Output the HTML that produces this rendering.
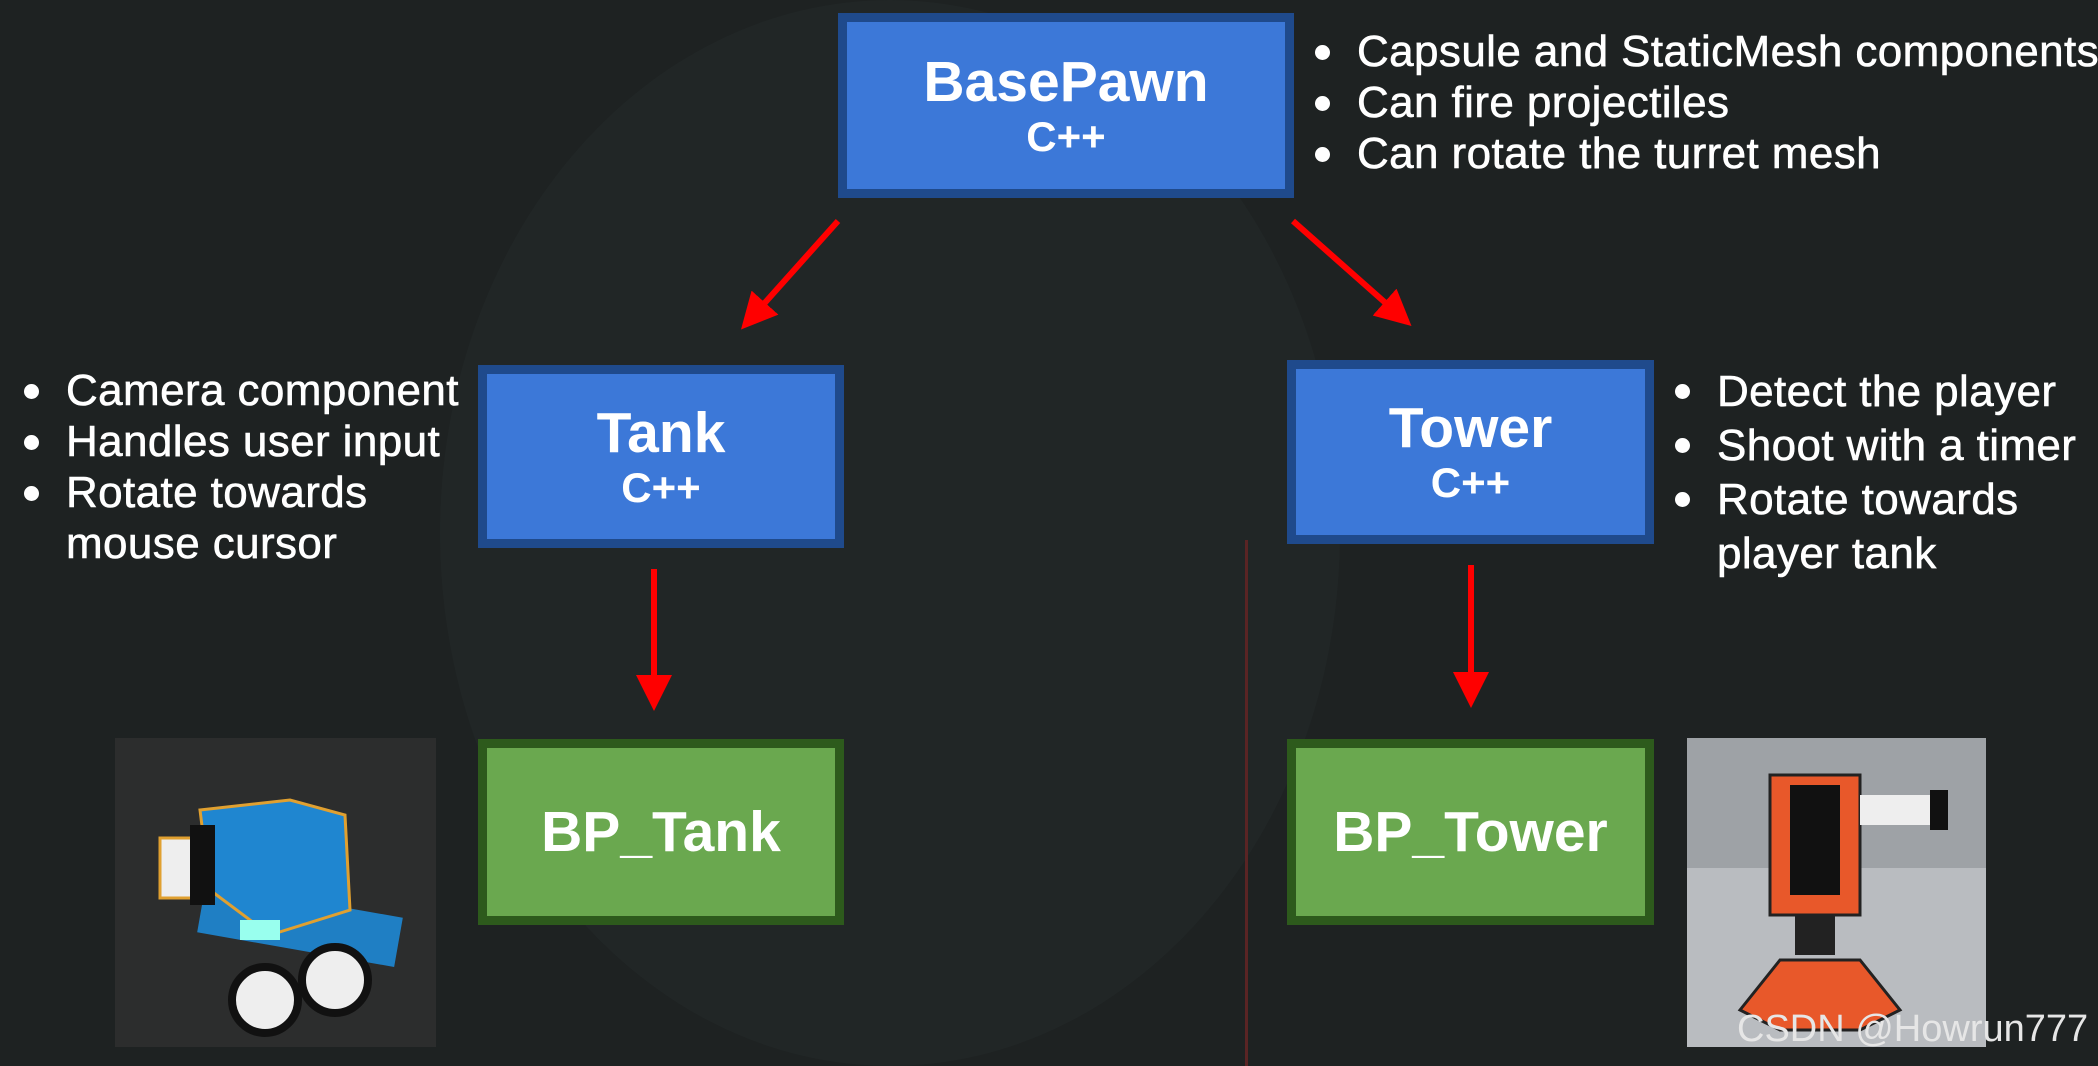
<!DOCTYPE html>
<html><head><meta charset="utf-8"><style>
body{margin:0;width:2098px;height:1066px;overflow:hidden;background:#1e2222;font-family:"Liberation Sans",sans-serif;position:relative}
.box{position:absolute;box-sizing:border-box;color:#fff;font-weight:bold;text-align:center;display:flex;flex-direction:column;justify-content:center;align-items:center}
.blue{background:#3c78d8;border:9px solid #1f4a8c}
.green{background:#6aa84f;border:9px solid #2d5a1c}
.t{font-size:57px;line-height:62px}
.c{font-size:42px;line-height:48px}
.ul{position:absolute;color:#fff;font-size:44px;line-height:51px;margin:0;padding:0;list-style:none;letter-spacing:0.4px;-webkit-text-stroke:0.6px #fff}
.ul li{position:relative;padding-left:42px;white-space:nowrap}
.ul li.b:before{content:"";position:absolute;left:0;top:19px;width:15px;height:15px;border-radius:50%;background:#fff}
</style></head><body>
<div style="position:absolute;left:440px;top:0;width:900px;height:1066px;border-radius:50%;background:#212626"></div>
<div style="position:absolute;left:1245px;top:540px;width:3px;height:526px;background:#5a2424"></div>

<div class="box blue" style="left:838px;top:13px;width:456px;height:185px"><div class="t">BasePawn</div><div class="c">C++</div></div>
<div class="box blue" style="left:478px;top:365px;width:366px;height:183px"><div class="t">Tank</div><div class="c">C++</div></div>
<div class="box blue" style="left:1287px;top:360px;width:367px;height:184px"><div class="t">Tower</div><div class="c">C++</div></div>
<div class="box green" style="left:478px;top:739px;width:366px;height:186px"><div class="t">BP_Tank</div></div>
<div class="box green" style="left:1287px;top:739px;width:367px;height:186px"><div class="t">BP_Tower</div></div>

<svg width="2098" height="1066" style="position:absolute;left:0;top:0">
<defs><marker id="a" markerWidth="6" markerHeight="6" refX="5" refY="3" orient="auto" markerUnits="strokeWidth"><path d="M0,0 L6,3 L0,6 z" fill="#f00"/></marker></defs>
<g stroke="#f00" stroke-width="6" fill="none">
<line x1="838" y1="221" x2="745" y2="325" marker-end="url(#a)"/>
<line x1="1293" y1="221" x2="1407" y2="322" marker-end="url(#a)"/>
<line x1="654" y1="569" x2="654" y2="705" marker-end="url(#a)"/>
<line x1="1471" y1="565" x2="1471" y2="702" marker-end="url(#a)"/>
</g>
<rect x="115" y="738" width="321" height="309" fill="#2c2d2d"/>
<g>
<rect x="200" y="900" width="200" height="50" fill="#1f7fc4" transform="rotate(10 300 925)"/>
<circle cx="265" cy="1000" r="33" fill="#eee" stroke="#111" stroke-width="8"/>
<circle cx="335" cy="980" r="33" fill="#eee" stroke="#111" stroke-width="8"/>
<path d="M200,810 L290,800 L345,815 L350,910 L270,935 L210,890 Z" fill="#1f86d0" stroke="#e0a030" stroke-width="3"/>
<rect x="160" y="838" width="50" height="60" fill="#eee" stroke="#e0a030" stroke-width="3"/>
<rect x="190" y="825" width="25" height="80" fill="#111"/>
<rect x="240" y="920" width="40" height="20" fill="#9fe"/>
</g>
<rect x="1687" y="738" width="299" height="309" fill="#b9bcc0"/>
<rect x="1687" y="738" width="299" height="130" fill="#9ea2a6"/>
<g>
<rect x="1770" y="775" width="90" height="140" fill="#e8582a" stroke="#222" stroke-width="3"/>
<rect x="1790" y="785" width="50" height="110" fill="#111"/>
<rect x="1860" y="795" width="80" height="30" fill="#eee"/>
<rect x="1930" y="790" width="18" height="40" fill="#111"/>
<rect x="1795" y="915" width="40" height="40" fill="#222"/>
<path d="M1740,1010 L1780,960 L1860,960 L1900,1010 L1860,1030 L1780,1030 Z" fill="#e8582a" stroke="#222" stroke-width="3"/>
</g>
</svg>

<ul class="ul" style="left:1315px;top:26px">
<li class="b">Capsule and StaticMesh components</li>
<li class="b">Can fire projectiles</li>
<li class="b">Can rotate the turret mesh</li>
</ul>
<ul class="ul" style="left:24px;top:365px">
<li class="b">Camera component</li>
<li class="b">Handles user input</li>
<li class="b">Rotate towards</li>
<li>mouse cursor</li>
</ul>
<ul class="ul" style="left:1675px;top:365px;line-height:54px">
<li class="b">Detect the player</li>
<li class="b">Shoot with a timer</li>
<li class="b">Rotate towards</li>
<li>player tank</li>
</ul>
<div style="position:absolute;left:1737px;top:1008px;color:#e6e6e6;font-size:38px;white-space:nowrap">CSDN @Howrun777</div>
</body></html>
